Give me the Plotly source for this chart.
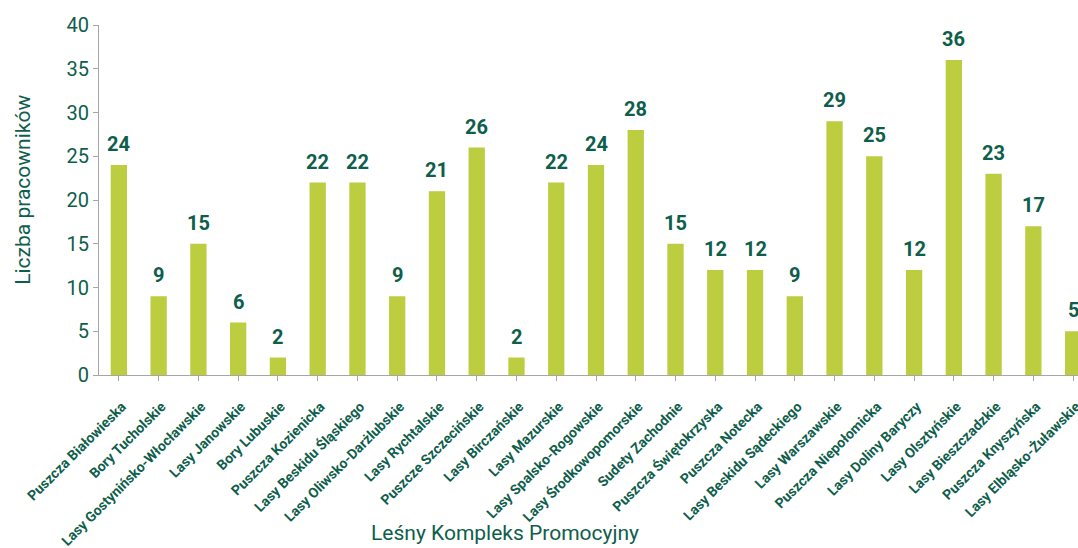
import plotly.graph_objects as go

categories = [
    "Puszcza Białowieska", "Bory Tucholskie", "Lasy Gostynińsko-Włocławskie",
    "Lasy Janowskie", "Bory Lubuskie", "Puszcza Kozienicka",
    "Lasy Beskidu Śląskiego", "Lasy Oliwsko-Darżlubskie", "Lasy Rychtalskie",
    "Puszcze Szczecińskie", "Lasy Birczańskie", "Lasy Mazurskie",
    "Lasy Spalsko-Rogowskie", "Lasy Środkowopomorskie", "Sudety Zachodnie",
    "Puszcza Świętokrzyska", "Puszcza Notecka", "Lasy Beskidu Sądeckiego",
    "Lasy Warszawskie", "Puszcza Niepołomicka", "Lasy Doliny Baryczy",
    "Lasy Olsztyńskie", "Lasy Bieszczadzkie", "Puszcza Knyszyńska",
    "Lasy Elbląsko-Żuławskie",
]
values = [24, 9, 15, 6, 2, 22, 22, 9, 21, 26, 2, 22, 24, 28, 15, 12, 12, 9, 29, 25, 12, 36, 23, 17, 5]
y_ticks = [0, 5, 10, 15, 20, 25, 30, 35, 40]

BAR = "#bccd3f"
TXT = "#0e5e4b"
AX = "#a6a6a6"
FONT = "Roboto, sans-serif"

xs = list(range(len(categories)))

fig = go.Figure(go.Bar(
    x=xs,
    y=values,
    marker=dict(color=BAR, line=dict(width=0)),
    hoverinfo="skip",
))

for xi, v in zip(xs, values):
    fig.add_annotation(
        x=xi, y=v, text=str(v), showarrow=False,
        xanchor="center", yanchor="bottom", yshift=7,
        font=dict(family=FONT, size=20, color=TXT, weight="bold"),
    )

# figure is wider than the window; the page crops the right edge like the reference
fig.update_layout(
    width=1093, height=548,
    margin=dict(l=99, r=0, t=25, b=173, autoexpand=False),
    paper_bgcolor="white", plot_bgcolor="white",
    bargap=0.59,
    showlegend=False,
    font=dict(family=FONT, color=TXT),
)

fig.update_xaxes(
    tickmode="array",
    tickvals=xs,
    ticktext=categories,
    range=[-0.5, len(categories) - 0.5],
    tickangle=-45,
    tickfont=dict(family=FONT, size=14, color=TXT, weight="bold"),
    ticklabelstandoff=12, ticklabelshift=3,
    showline=True, linecolor=AX, linewidth=1,
    ticks="outside", ticklen=5, tickcolor=AX, tickson="boundaries",
    showgrid=False, zeroline=False, automargin=False,
)
fig.update_yaxes(
    range=[0, 40],
    tickvals=y_ticks,
    tickfont=dict(family=FONT, size=20, color=TXT),
    showline=True, linecolor=AX, linewidth=1,
    ticks="outside", ticklen=5, tickcolor=AX,
    showgrid=False, zeroline=False, automargin=False,
)

fig.add_annotation(
    text="Leśny Kompleks Promocyjny", xref="paper", yref="paper",
    x=0.4085, y=-0.451, xanchor="center", yanchor="middle", showarrow=False,
    font=dict(family=FONT, size=21, color=TXT),
)
fig.add_annotation(
    text="Liczba pracowników", xref="paper", yref="paper",
    x=-0.0765, y=0.529, xanchor="center", yanchor="middle", showarrow=False,
    textangle=-90,
    font=dict(family=FONT, size=21, color=TXT),
)

fig.write_html(
    "out.html",
    config={"displayModeBar": False},
    post_script="document.body.style.margin='0';document.body.style.overflow='hidden';",
)
